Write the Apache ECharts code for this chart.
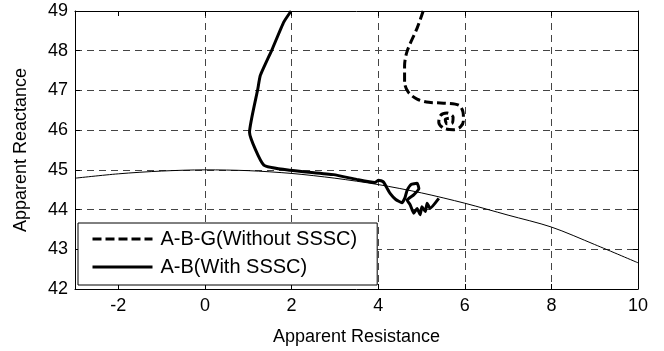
<!DOCTYPE html>
<html>
<head>
<meta charset="utf-8">
<script src="https://cdn.jsdelivr.net/npm/echarts@6/dist/echarts.min.js"></script>
<style>
  html, body { margin: 0; padding: 0; background: #fff; }
  #chart { width: 664px; height: 351px; }
</style>
</head>
<body>
<div id="chart"></div>
<script>
// tick labels
const xTicks = [-2, 0, 2, 4, 6, 8, 10];

// thin reference arc
const arcX = [-3, -2, -1, 0, 1, 2, 3, 4, 5, 6, 7, 8, 9, 10];
const arcY = [44.79, 44.9, 44.97, 45.0, 44.98, 44.91, 44.79, 44.63, 44.42, 44.16, 43.86, 43.56, 43.12, 42.66];

// A-B-G (Without SSSC), dashed
const withoutX = [5.04, 4.90, 4.67, 4.61, 4.61, 4.70, 4.90, 5.17, 5.51, 5.86, 5.96, 5.97, 5.90, 5.74, 5.51, 5.40, 5.44, 5.59, 5.73, 5.71, 5.59, 5.55, 5.64];
const withoutY = [49.0, 48.57, 47.99, 47.62, 47.2, 46.95, 46.78, 46.7, 46.68, 46.63, 46.45, 46.24, 46.08, 46.01, 46.05, 46.2, 46.37, 46.43, 46.33, 46.18, 46.16, 46.27, 46.3];

// A-B (With SSSC), solid
const withX = [1.99, 1.82, 1.55, 1.28, 1.22, 1.03, 1.36, 1.97, 2.97, 3.5, 3.92, 4.01, 4.12, 4.2, 4.28, 4.4, 4.55, 4.62, 4.67, 4.76, 4.9, 4.94, 4.82, 4.67, 4.74, 4.82, 4.9, 4.97, 5.01, 5.09, 5.13, 5.2, 5.4];
const withY = [49.0, 48.72, 48.03, 47.38, 47.03, 45.95, 45.12, 44.99, 44.88, 44.76, 44.68, 44.74, 44.7, 44.55, 44.4, 44.26, 44.17, 44.3, 44.49, 44.63, 44.66, 44.53, 44.37, 44.24, 44.12, 43.91, 44.03, 43.87, 44.07, 43.95, 44.16, 44.03, 44.28];

const zip = (xs, ys) => xs.map((x, i) => [x, ys[i]]);

const FONT = 'Liberation Sans';
const gridLine = { show: true, showMinLine: false, showMaxLine: false, lineStyle: { color: '#444', width: 1, type: [7, 5] } };
const frame = { show: true, onZero: false, lineStyle: { color: '#000', width: 1 } };
const tick = { show: true, inside: true, length: 5, lineStyle: { color: '#000' } };

const chart = echarts.init(document.getElementById('chart'), null, { renderer: 'canvas' });

chart.setOption({
  animation: false,
  backgroundColor: '#fff',
  grid: { left: 75, right: 26, top: 11, bottom: 60, containLabel: false },
  legend: {
    orient: 'vertical',
    left: 78,
    top: 223,
    data: ['A-B-G(Without SSSC)', 'A-B(With SSSC)'],
    backgroundColor: '#fff',
    borderColor: '#000',
    borderWidth: 1,
    borderRadius: 0,
    padding: [6, 20, 8, 13],
    itemWidth: 60,
    itemHeight: 14,
    itemGap: 8,
    itemStyle: { opacity: 0 },
    lineStyle: { width: 3, type: 'inherit' },
    textStyle: { fontFamily: FONT, fontSize: 20, color: '#000', lineHeight: 20, padding: [0, 0, 0, 3] },
  },
  xAxis: [
    {
      type: 'value',
      min: -3,
      max: 10,
      name: 'Apparent Resistance',
      nameLocation: 'middle',
      nameGap: 39,
      nameTextStyle: { fontFamily: FONT, fontSize: 18, color: '#000' },
      axisLine: frame,
      axisTick: { ...tick, customValues: xTicks },
      axisLabel: { customValues: xTicks, fontFamily: FONT, fontSize: 18, color: '#000', margin: 8 },
      splitLine: gridLine,
    },
    {
      type: 'value',
      position: 'top',
      min: -3,
      max: 10,
      axisLine: frame,
      axisTick: { ...tick, customValues: xTicks },
      axisLabel: { show: false },
      splitLine: { show: false },
    },
  ],
  yAxis: [
    {
      type: 'value',
      min: 42,
      max: 49,
      interval: 1,
      name: 'Apparent Reactance',
      nameLocation: 'middle',
      nameGap: 45,
      nameTextStyle: { fontFamily: FONT, fontSize: 18, color: '#000' },
      axisLine: frame,
      axisTick: tick,
      axisLabel: { fontFamily: FONT, fontSize: 18, color: '#000', margin: 7 },
      splitLine: gridLine,
    },
    {
      type: 'value',
      position: 'right',
      min: 42,
      max: 49,
      interval: 1,
      axisLine: frame,
      axisTick: tick,
      axisLabel: { show: false },
      splitLine: { show: false },
    },
  ],
  series: [
    {
      name: 'arc',
      type: 'line',
      data: zip(arcX, arcY),
      symbol: 'none',
      smooth: 0.3,
      lineStyle: { color: '#000', width: 1 },
      itemStyle: { color: '#000' },
      z: 2,
    },
    {
      name: 'A-B-G(Without SSSC)',
      type: 'line',
      data: zip(withoutX, withoutY),
      symbol: 'none',
      smooth: 0.3,
      lineStyle: { color: '#000', width: 3, type: [9, 4] },
      itemStyle: { color: '#000' },
      z: 3,
    },
    {
      name: 'A-B(With SSSC)',
      type: 'line',
      data: zip(withX, withY),
      symbol: 'none',
      smooth: 0.15,
      lineStyle: { color: '#000', width: 3 },
      itemStyle: { color: '#000' },
      z: 3,
    },
  ],
});
</script>
</body>
</html>
